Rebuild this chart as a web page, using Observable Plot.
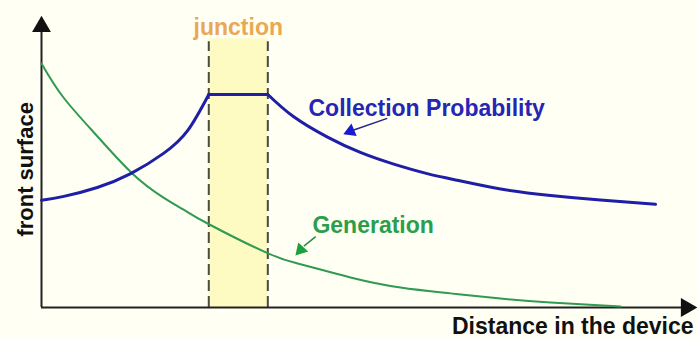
<!DOCTYPE html>
<html>
<head>
<meta charset="utf-8">
<script src="https://cdn.jsdelivr.net/npm/d3@7"></script>
<script src="https://cdn.jsdelivr.net/npm/@observablehq/plot@0.6"></script>
<style>
  html, body { margin: 0; padding: 0; background: #fffff4; }
</style>
</head>
<body>
<div id="chart"></div>
<script>
// Distance in the device (arbitrary units, 0..100)
const collectionX = [0, 3.4, 8.5, 13.6, 18.6, 22.3, 25.5, 34.5, 38.4, 43.6, 48.6, 53.7, 58.8, 62.8, 70.0, 77.6, 85.2, 93.6];
const collectionY = [34.9, 36.2, 39.1, 43.6, 50.2, 57.7, 69.4, 69.4, 62.2, 55.5, 50.5, 46.7, 43.6, 41.7, 38.6, 36.5, 35.0, 33.6];

const generationX = [0, 3.35, 8.54, 13.87, 18.6, 21.65, 25.46, 34.45, 39.48, 47.1, 54.73, 62.35, 69.97, 77.59, 88.26];
const generationY = [79.5, 68.4, 55.7, 43.6, 35.8, 31.9, 27.2, 17.7, 14.1, 9.8, 6.5, 4.6, 2.9, 1.6, 0.3];

const junction = [25.5, 34.5];
const labels = {
  junction: "junction",
  collection: "Collection Probability",
  generation: "Generation",
  xAxis: "Distance in the device",
  yAxis: "front surface"
};

// split the collection curve into rise / flat (inside junction) / fall segments
const collection = [];
collectionX.forEach((x, i) => {
  const y = collectionY[i];
  if (x <= junction[0]) collection.push({x, y, seg: "rise"});
  if (x >= junction[0] && x <= junction[1]) collection.push({x, y, seg: "flat"});
  if (x >= junction[1]) collection.push({x, y, seg: "fall"});
});
const generation = generationX.map((x, i) => ({x, y: generationY[i]}));

const font = "'Liberation Sans', Arial, sans-serif";
const axisColor = "#222";
const fs = 23;

const chart = Plot.plot({
  width: 697,
  height: 338,
  marginLeft: 41,
  marginRight: 0,
  marginTop: 0,
  marginBottom: 31,
  x: {domain: [0, 100], axis: null},
  y: {domain: [0, 100], axis: null},
  style: {background: "#fffff4", fontFamily: font, overflow: "visible"},
  marks: [
    // junction band
    Plot.rect([junction], {x1: d => d[0], x2: d => d[1], y1: 0, y2: 87.5, fill: "#fdfac2"}),
    Plot.ruleX(junction, {y1: 0, y2: 86.6, stroke: "#4a4a42", strokeWidth: 2, strokeDasharray: "11,5"}),
    // axes
    Plot.ruleY([0], {x1: 0, x2: 98, stroke: axisColor, strokeWidth: 2}),
    Plot.ruleX([0], {y1: 0, y2: 90, stroke: axisColor, strokeWidth: 2}),
    Plot.dot([{x: 0, y: 91.5}], {x: "x", y: "y", symbol: "triangle", r: 7, fill: "#111", stroke: null}),
    Plot.dot([{x: 98.3, y: 0}], {x: "x", y: "y", symbol: "triangle", r: 7, fill: "#111", stroke: null, rotate: 90}),
    // curves
    Plot.line(generation, {x: "x", y: "y", stroke: "#2f9a52", strokeWidth: 2, curve: "natural"}),
    Plot.line(collection, {x: "x", y: "y", z: "seg", stroke: "#1e1ea6", strokeWidth: 3, curve: "natural", strokeLinecap: "round", strokeLinejoin: "round"}),
    // annotation arrows
    Plot.link([{x1: 52.7, y1: 61.6, x2: 47.6, y2: 57.8}], {x1: "x1", y1: "y1", x2: "x2", y2: "y2", stroke: "#26268a", strokeWidth: 1.5}),
    Plot.dot([{x: 47.1, y: 57.4}], {x: "x", y: "y", symbol: "triangle", r: 5, fill: "#1a1ad0", stroke: null, rotate: -113}),
    Plot.link([{x1: 41.8, y1: 23.1, x2: 40.0, y2: 20.0}], {x1: "x1", y1: "y1", x2: "x2", y2: "y2", stroke: "#2a8a48", strokeWidth: 1.5}),
    Plot.dot([{x: 39.5, y: 18.8}], {x: "x", y: "y", symbol: "triangle", r: 5, fill: "#1fa040", stroke: null, rotate: -138}),
    // labels
    Plot.text([labels.junction], {x: 30.0, y: 91.3, text: d => d, fill: "#eaa852", fontSize: fs, fontWeight: "bold", textAnchor: "middle"}),
    Plot.text([labels.collection], {x: 40.7, y: 64.8, text: d => d, fill: "#2626b4", fontSize: fs, fontWeight: "bold", textAnchor: "start"}),
    Plot.text([labels.generation], {x: 41.3, y: 26.7, text: d => d, fill: "#2a9e4a", fontSize: fs, fontWeight: "bold", textAnchor: "start"}),
    Plot.text([labels.xAxis], {x: 99.4, y: -6.1, text: d => d, fill: "#111", fontSize: fs, fontWeight: "bold", textAnchor: "end"}),
    Plot.text([labels.yAxis], {x: -2.4, y: 45, text: d => d, fill: "#111", fontSize: 22, fontWeight: "bold", textAnchor: "middle", rotate: -90})
  ]
});

document.getElementById("chart").appendChild(chart);
</script>
</body>
</html>
